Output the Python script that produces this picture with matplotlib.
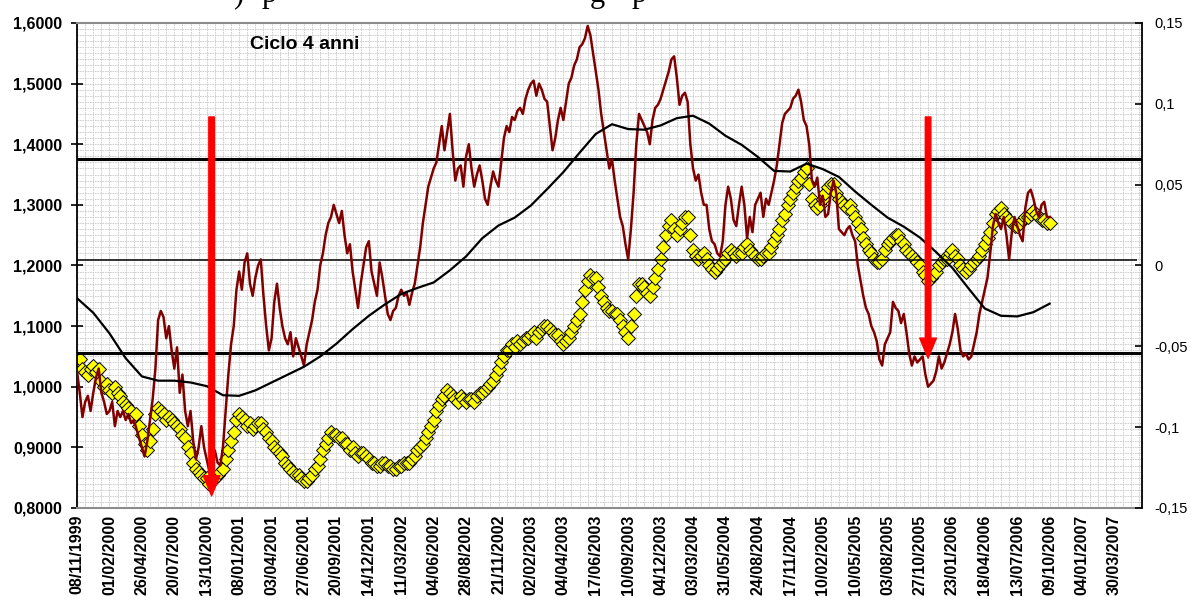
import matplotlib.pyplot as plt
import numpy as np

plt.rcParams['font.family'] = ['Liberation Sans', 'DejaVu Sans']

# category labels on the x axis (one every ~61 trading days)
date_labels = ['08/11/1999', '01/02/2000', '26/04/2000', '20/07/2000', '13/10/2000',
               '08/01/2001', '03/04/2001', '27/06/2001', '20/09/2001', '14/12/2001',
               '11/03/2002', '04/06/2002', '28/08/2002', '21/11/2002', '02/02/2003',
               '04/04/2003', '17/06/2003', '10/09/2003', '04/12/2003', '03/03/2004',
               '31/05/2004', '24/08/2004', '17/11/2004', '10/02/2005', '10/05/2005',
               '03/08/2005', '27/10/2005', '23/01/2006', '18/04/2006', '13/07/2006',
               '09/10/2006', '04/01/2007', '30/03/2007']

# yellow diamonds: exchange rate, 12 readings per label interval
cambio = [
    1.04, 1.045, 1.03, 1.025, 1.02, 1.03, 1.035, 1.025, 1.03, 1.01, 1.00, 1.005,
    0.995, 0.99, 1.00, 0.99, 0.985, 0.975, 0.97, 0.965, 0.96, 0.95, 0.955, 0.935,
    0.92, 0.905, 0.895, 0.91, 0.93, 0.955, 0.965, 0.96, 0.955, 0.945, 0.95, 0.945,
    0.94, 0.935, 0.93, 0.92, 0.915, 0.90, 0.89, 0.875, 0.865, 0.86, 0.855, 0.85,
    0.85, 0.84, 0.845, 0.85, 0.855, 0.86, 0.865, 0.88, 0.895, 0.91, 0.925, 0.945,
    0.955, 0.95, 0.945, 0.935, 0.94, 0.93, 0.935, 0.94, 0.94, 0.93, 0.925, 0.915,
    0.91, 0.90, 0.895, 0.89, 0.885, 0.875, 0.87, 0.865, 0.86, 0.855, 0.855, 0.85,
    0.845, 0.845, 0.85, 0.855, 0.865, 0.87, 0.88, 0.895, 0.905, 0.915, 0.925, 0.92,
    0.92, 0.915, 0.915, 0.905, 0.905, 0.895, 0.90, 0.89, 0.885, 0.89, 0.89, 0.885,
    0.88, 0.875, 0.875, 0.87, 0.87, 0.875, 0.875, 0.87, 0.87, 0.865, 0.865, 0.87,
    0.87, 0.875, 0.875, 0.875, 0.88, 0.885, 0.895, 0.90, 0.905, 0.915, 0.925, 0.935,
    0.945, 0.96, 0.97, 0.98, 0.985, 0.995, 0.99, 0.985, 0.98, 0.975, 0.985, 0.98,
    0.975, 0.98, 0.98, 0.975, 0.985, 0.99, 0.99, 0.995, 1.00, 1.005, 1.01, 1.02,
    1.03, 1.04, 1.05, 1.06, 1.06, 1.07, 1.065, 1.075, 1.07, 1.075, 1.08, 1.08,
    1.085, 1.09, 1.08, 1.09, 1.095, 1.10, 1.10, 1.095, 1.09, 1.085, 1.085, 1.075,
    1.07, 1.075, 1.08, 1.09, 1.10, 1.11, 1.12, 1.14, 1.16, 1.175, 1.185, 1.18,
    1.18, 1.165, 1.15, 1.14, 1.13, 1.125, 1.125, 1.12, 1.12, 1.11, 1.10, 1.09,
    1.08, 1.10, 1.12, 1.15, 1.17, 1.17, 1.165, 1.155, 1.15, 1.165, 1.18, 1.195,
    1.21, 1.23, 1.25, 1.265, 1.275, 1.26, 1.25, 1.26, 1.27, 1.28, 1.28, 1.25,
    1.225, 1.215, 1.21, 1.215, 1.22, 1.21, 1.20, 1.195, 1.19, 1.195, 1.20, 1.205,
    1.21, 1.22, 1.225, 1.22, 1.215, 1.22, 1.22, 1.23, 1.235, 1.225, 1.22, 1.215,
    1.21, 1.21, 1.215, 1.22, 1.22, 1.23, 1.24, 1.25, 1.26, 1.275, 1.285, 1.30,
    1.31, 1.32, 1.33, 1.34, 1.345, 1.355, 1.36, 1.335, 1.31, 1.30, 1.295, 1.30,
    1.31, 1.32, 1.33, 1.335, 1.335, 1.32, 1.31, 1.305, 1.30, 1.295, 1.30, 1.29,
    1.28, 1.27, 1.26, 1.245, 1.235, 1.225, 1.22, 1.21, 1.205, 1.205, 1.21, 1.225,
    1.235, 1.24, 1.245, 1.25, 1.25, 1.24, 1.235, 1.225, 1.22, 1.215, 1.21, 1.205,
    1.20, 1.19, 1.185, 1.175, 1.18, 1.185, 1.19, 1.20, 1.205, 1.21, 1.21, 1.22,
    1.225, 1.215, 1.21, 1.20, 1.195, 1.19, 1.195, 1.20, 1.205, 1.21, 1.215, 1.225,
    1.235, 1.245, 1.255, 1.27, 1.285, 1.29, 1.295, 1.285, 1.28, 1.275, 1.27, 1.265,
    1.265, 1.27, 1.275, 1.28, 1.28, 1.285, 1.29, 1.285, 1.28, 1.275, 1.275, 1.27,
    1.27,
]

# dark red line, 12 readings per label interval
indicatore = [
    1.025, 0.99, 0.95, 0.975, 0.985, 0.96, 0.99, 1.015, 1.03, 0.99, 0.975, 0.955,
    0.96, 0.975, 0.935, 0.96, 0.95, 0.96, 0.945, 0.955, 0.94, 0.945, 0.93, 0.915,
    0.90, 0.885, 0.91, 0.945, 0.98, 1.03, 1.11, 1.125, 1.115, 1.08, 1.10, 1.06,
    1.03, 1.065, 0.99, 1.02, 0.96, 0.935, 0.96, 0.91, 0.88, 0.90, 0.935, 0.90,
    0.88, 0.86, 0.87, 0.895, 0.875, 0.87, 0.90, 0.96, 1.02, 1.07, 1.10, 1.16,
    1.19, 1.16, 1.205, 1.22, 1.17, 1.15, 1.18, 1.20, 1.21, 1.15, 1.10, 1.06,
    1.08, 1.14, 1.17, 1.13, 1.10, 1.08, 1.07, 1.09, 1.05, 1.08, 1.065, 1.05,
    1.035, 1.07, 1.09, 1.11, 1.14, 1.16, 1.20, 1.22, 1.25, 1.27, 1.28, 1.30,
    1.285, 1.27, 1.29, 1.25, 1.22, 1.235, 1.19, 1.16, 1.13, 1.17, 1.20, 1.23,
    1.24, 1.19, 1.17, 1.15, 1.205, 1.18, 1.15, 1.12, 1.11, 1.125, 1.13, 1.15,
    1.16, 1.15, 1.155, 1.135, 1.155, 1.17, 1.20, 1.23, 1.27, 1.30, 1.33, 1.345,
    1.36, 1.37, 1.40, 1.43, 1.39, 1.42, 1.45, 1.39, 1.34, 1.36, 1.365, 1.33,
    1.38, 1.40, 1.36, 1.33, 1.35, 1.365, 1.34, 1.31, 1.30, 1.33, 1.355, 1.34,
    1.33, 1.37, 1.41, 1.43, 1.42, 1.445, 1.44, 1.455, 1.46, 1.45, 1.475, 1.49,
    1.50, 1.505, 1.48, 1.50, 1.49, 1.475, 1.47, 1.43, 1.39, 1.41, 1.44, 1.46,
    1.44, 1.47, 1.50, 1.51, 1.53, 1.54, 1.56, 1.565, 1.575, 1.595, 1.58, 1.55,
    1.52, 1.49, 1.45, 1.42, 1.39, 1.36, 1.375, 1.34, 1.31, 1.28, 1.265, 1.235,
    1.21, 1.26, 1.32, 1.40, 1.45, 1.44, 1.43, 1.42, 1.40, 1.44, 1.46, 1.465,
    1.475, 1.49, 1.505, 1.52, 1.54, 1.545, 1.51, 1.465, 1.48, 1.485, 1.47, 1.40,
    1.36, 1.34, 1.35, 1.32, 1.30, 1.30, 1.26, 1.24, 1.235, 1.22, 1.215, 1.24,
    1.30, 1.33, 1.31, 1.275, 1.265, 1.30, 1.33, 1.30, 1.245, 1.28, 1.255, 1.30,
    1.31, 1.32, 1.28, 1.31, 1.30, 1.32, 1.34, 1.365, 1.40, 1.435, 1.45, 1.455,
    1.46, 1.475, 1.48, 1.49, 1.47, 1.44, 1.43, 1.40, 1.34, 1.33, 1.345, 1.30,
    1.315, 1.28, 1.285, 1.32, 1.34, 1.32, 1.26, 1.255, 1.25, 1.26, 1.265, 1.25,
    1.24, 1.20, 1.175, 1.15, 1.13, 1.12, 1.10, 1.09, 1.075, 1.045, 1.035, 1.07,
    1.08, 1.09, 1.14, 1.13, 1.125, 1.105, 1.12, 1.09, 1.055, 1.035, 1.05, 1.04,
    1.045, 1.05, 1.02, 1.00, 1.005, 1.01, 1.025, 1.05, 1.03, 1.04, 1.055, 1.07,
    1.09, 1.12, 1.095, 1.06, 1.05, 1.055, 1.045, 1.05, 1.07, 1.09, 1.12, 1.14,
    1.16, 1.18, 1.22, 1.265, 1.285, 1.27, 1.26, 1.28, 1.25, 1.21, 1.255, 1.28,
    1.265, 1.25, 1.24, 1.295, 1.32, 1.325, 1.31, 1.29, 1.28, 1.30, 1.305, 1.28,
    1.28,
]

# black smooth line (moving average), 2 readings per label interval
media = [
    1.146, 1.122, 1.088, 1.047, 1.017, 1.010, 1.010, 1.007, 1.001, 0.986,
    0.985, 0.994, 1.007, 1.020, 1.033, 1.050, 1.071, 1.095, 1.117, 1.136,
    1.153, 1.163, 1.172, 1.192, 1.215, 1.245, 1.266, 1.279, 1.299, 1.326,
    1.354, 1.386, 1.417, 1.433, 1.425, 1.424, 1.431, 1.443, 1.447, 1.434,
    1.414, 1.399, 1.379, 1.356, 1.355, 1.368, 1.359, 1.346, 1.322, 1.300,
    1.279, 1.264, 1.246, 1.222, 1.196, 1.162, 1.129, 1.117, 1.116, 1.123,
    1.137,
]

# horizontal reference levels
livello_alto = 1.375
livello_medio = 1.209
livello_basso = 1.055

fig = plt.figure(figsize=(11.91, 6.08), dpi=100)
ax = fig.add_axes([0.0647, 0.1645, 0.8942, 0.7977])

x_cambio = np.arange(len(cambio)) / 12
x_indic = np.arange(len(indicatore)) / 12
x_media = np.arange(len(media)) / 2

# grid
ax.set_xlim(0, 32.85)
ax.set_ylim(0.8, 1.6)
ax.set_xticks(np.arange(len(date_labels)))
ax.set_xticks(np.arange(0, 32.85, 0.25), minor=True)
ax.set_yticks(np.arange(0.8, 1.6001, 0.1))
ax.set_yticks(np.arange(0.8, 1.6001, 0.01), minor=True)
ax.grid(which='both', color='#c8c8c8', linestyle=(0, (2, 1)), linewidth=0.6, zorder=0)
ax.set_axisbelow(True)

ax.plot(x_cambio, cambio, linestyle='none', marker='D', markersize=6.8,
        markerfacecolor='#ffff00', markeredgecolor='black', markeredgewidth=0.7, zorder=2)

ax.axhline(livello_alto, color='black', linewidth=2.2, zorder=3)
ax.axhline(livello_basso, color='black', linewidth=2.2, zorder=3)
ax.hlines(livello_medio, 0, 32.7, color='black', linewidth=1.1, zorder=3)

ax.plot(x_indic, indicatore, color='#800000', linewidth=1.8, zorder=4)
ax.plot(x_media, media, color='black', linewidth=1.6, zorder=5)

# red arrows marking the cycle lows
for xa, y_start, y_end in [(4.15, 1.445, 0.82), (26.25, 1.445, 1.047)]:
    ax.annotate('', xy=(xa, y_end), xytext=(xa, y_start),
                arrowprops=dict(arrowstyle='simple,head_length=1.45,head_width=1.2,tail_width=0.4',
                                mutation_scale=10, color='#ff0000', shrinkA=0, shrinkB=0),
                zorder=6)

ax.text(0.1624, 0.955, 'Ciclo 4 anni', transform=ax.transAxes, fontsize=14,
        fontweight='bold', ha='left', va='center')

# axes styling
ax.set_xticklabels(date_labels, rotation=90, fontsize=11.5, fontweight='bold')
ax.tick_params(axis='x', which='both', length=0, pad=5)
ax.set_yticklabels([f'{v:.4f}'.replace('.', ',') for v in np.arange(0.8, 1.6001, 0.1)],
                   fontsize=11.5, fontweight='bold')
ax.tick_params(axis='y', which='major', direction='inout', length=9, width=1.2, pad=6)
ax.tick_params(axis='y', which='minor', length=0)
ax.spines['top'].set_color('#8c8c8c')
ax.spines['bottom'].set_color('#8c8c8c')
ax.spines['top'].set_linewidth(1.5)
ax.spines['bottom'].set_linewidth(1.5)
ax.spines['left'].set_linewidth(1.3)
ax.spines['right'].set_visible(False)

ax2 = ax.twinx()
ax2.set_ylim(-0.15, 0.15)
right_ticks = np.round(np.arange(-0.15, 0.1501, 0.05), 2)
ax2.set_yticks(right_ticks)
ax2.set_yticklabels([f'{v:g}'.replace('.', ',') if v != 0 else '0' for v in right_ticks],
                    fontsize=10.5)
ax2.tick_params(axis='y', direction='in', length=5, width=1.2, pad=9)
for side in ['top', 'bottom', 'left']:
    ax2.spines[side].set_visible(False)
ax2.spines['right'].set_linewidth(1.3)

# remnants of the cropped caption line above the chart (only descenders show)
for fx, ch in [(233, ')'), (262, 'p'), (590, 'g'), (632, 'p')]:
    fig.text(fx / 1191, 1 - 2 / 608, ch, fontsize=22, family='Liberation Serif',
             ha='left', va='baseline')

fig.savefig('out.png', dpi=100)
